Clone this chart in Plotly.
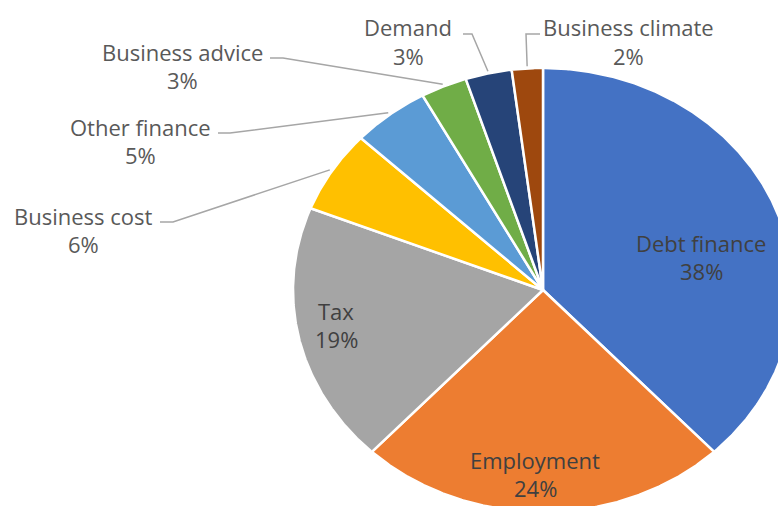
import numpy as np
import plotly.graph_objects as go

# ---- data ----
categories = ["Debt finance", "Employment", "Tax", "Business cost",
              "Other finance", "Business advice", "Demand", "Business climate"]
shares = [38, 24, 19, 6, 5, 3, 3, 2]

# ---- styles / layout ----
colors = ["#4472C4", "#ED7D31", "#A5A5A5", "#FFC000",
          "#5B9BD5", "#70AD47", "#264478", "#9E480E"]
W, H = 778, 506
CX, CY, RX, RY = 543, 290, 250, 222   # pie centre and radii in page pixels
FONT = "Open Sans"
FS = 22

# label placement (page pixels): centre of first text line, line gap,
# and for outside labels the start / elbow of the leader line
label_pos = {
    "Debt finance":     dict(x=701, y=243, gap=28, inside=True),
    "Employment":       dict(x=535, y=460, gap=28, inside=True),
    "Tax":              dict(x=336, y=311, gap=28, inside=True),
    "Business cost":    dict(x=83, y=216, gap=28, inside=False, lx0=160, lx1=173, ly=222),
    "Other finance":    dict(x=140, y=127, gap=28, inside=False, lx0=218, lx1=230, ly=133),
    "Business advice":  dict(x=182, y=52, gap=28, inside=False, lx0=270, lx1=283, ly=58),
    "Demand":           dict(x=408, y=27, gap=29, inside=False, lx0=463, lx1=472, ly=34),
    "Business climate": dict(x=628, y=27, gap=29, inside=False, lx0=540, lx1=526, ly=34),
}

fig = go.Figure()
total = float(sum(shares))
cum = 0.0
for cat, v, col in zip(categories, shares, colors):
    a0 = cum / total * 2 * np.pi
    a1 = (cum + v) / total * 2 * np.pi
    t = np.linspace(a0, a1, max(int(v * 10), 12))
    xs = np.concatenate([[CX], CX + RX * np.sin(t), [CX]])
    ys = np.concatenate([[CY], CY - RY * np.cos(t), [CY]])
    fig.add_trace(go.Scatter(
        x=xs, y=ys, mode="lines", fill="toself", fillcolor=col,
        line=dict(color="white", width=2.5), name=cat,
        hoveron="fills", hoverinfo="name", showlegend=False))

    pct = f"{v / total * 100:.0f}%"
    p = label_pos[cat]
    tcol = "#404040" if p["inside"] else "#595959"
    for txt, yy in ((cat, p["y"]), (pct, p["y"] + p["gap"])):
        fig.add_annotation(x=p["x"], y=yy, xref="x", yref="y", text=txt,
                           showarrow=False, xanchor="center", yanchor="middle",
                           font=dict(family=FONT, size=FS, color=tcol))
    if not p["inside"]:
        am = (cum + v / 2) / total * 2 * np.pi
        ex = CX + RX * 1.01 * np.sin(am)
        ey = CY - RY * 1.01 * np.cos(am)
        fig.add_trace(go.Scatter(
            x=[p["lx0"], p["lx1"], ex], y=[p["ly"], p["ly"], ey],
            mode="lines", line=dict(color="#A6A6A6", width=1.5),
            hoverinfo="skip", showlegend=False))
    cum += v

fig.update_layout(
    width=W, height=H, autosize=False,
    margin=dict(l=0, r=0, t=0, b=0),
    paper_bgcolor="white", plot_bgcolor="white",
    xaxis=dict(range=[0, W], visible=False, fixedrange=True),
    yaxis=dict(range=[H, 0], visible=False, fixedrange=True),
    showlegend=False,
)
fig.write_html("out.html",
               config={"displayModeBar": False},
               post_script="document.body.style.margin='0';"
                           "document.documentElement.style.overflow='hidden';"
                           "document.body.style.overflow='hidden';")
